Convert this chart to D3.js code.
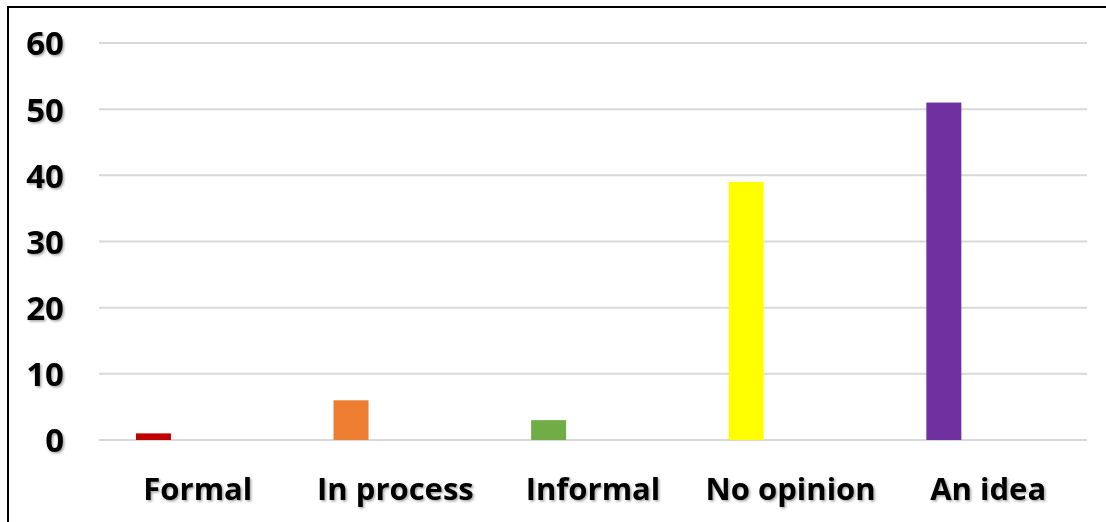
<!DOCTYPE html>
<html>
<head>
<meta charset="utf-8">
<script src="https://cdn.jsdelivr.net/npm/d3@7"></script>
<style>
  html, body { margin: 0; padding: 0; background: #fff; }
  svg { display: block; }
</style>
</head>
<body>
<svg id="chart" width="1106" height="522"></svg>
<script>
// Responses per category
const categories = ["Formal", "In process", "Informal", "No opinion", "An idea"];
const counts = [1, 6, 3, 39, 51];
const barColors = ["#C00000", "#ED7D31", "#70AD47", "#FFFF00", "#7030A0"];
const yTicks = [0, 10, 20, 30, 40, 50, 60];

const svg = d3.select("#chart");
const W = 1106, H = 522;
const plot = { left: 99, right: 1087, top: 43, bottom: 440 };
const FONT = "'Open Sans', Lato, sans-serif";

const defs = svg.append("defs");
const shadow = defs.append("filter").attr("id", "txtShadow")
  .attr("x", "-10%").attr("y", "-20%").attr("width", "130%").attr("height", "150%");
shadow.append("feDropShadow")
  .attr("dx", 1.5).attr("dy", 1.5).attr("stdDeviation", 1)
  .attr("flood-color", "#000").attr("flood-opacity", 0.35);

const x = d3.scaleBand().domain(categories).range([plot.left, plot.right]).padding(0);
const y = d3.scaleLinear().domain([0, 60]).range([plot.bottom, plot.top]);

// Horizontal gridlines
svg.append("g")
  .selectAll("line")
  .data(yTicks)
  .join("line")
  .attr("x1", plot.left).attr("x2", plot.right)
  .attr("y1", d => y(d)).attr("y2", d => y(d))
  .attr("stroke", "#d9d9d9").attr("stroke-width", 2);

// Bars sit in the left part of each category slot
const barOffset = 0.187, barWidth = 0.177;
svg.append("g")
  .selectAll("rect")
  .data(categories)
  .join("rect")
  .attr("x", (d) => x(d) + x.bandwidth() * barOffset)
  .attr("width", x.bandwidth() * barWidth)
  .attr("y", (d, i) => y(counts[i]))
  .attr("height", (d, i) => y(0) - y(counts[i]))
  .attr("fill", (d, i) => barColors[i]);

// Y axis labels
const yAxis = d3.axisLeft(y).tickValues(yTicks).tickSize(0).tickPadding(0);
const gy = svg.append("g").attr("transform", "translate(64,0)").call(yAxis);
gy.select(".domain").remove();
gy.selectAll("text")
  .attr("font-size", 33).attr("font-family", FONT).attr("font-weight", "bold")
  .attr("fill", "#000").attr("dy", "0.36em").attr("filter", "url(#txtShadow)");

// X axis labels
const xAxis = d3.axisBottom(x).tickSize(0).tickPadding(0);
const gx = svg.append("g").attr("transform", "translate(0,500)").call(xAxis);
gx.select(".domain").remove();
gx.selectAll("text")
  .attr("font-size", 31).attr("font-family", FONT).attr("font-weight", "bold")
  .attr("fill", "#000").attr("dy", 0).attr("y", 0).attr("filter", "url(#txtShadow)");

// Frame: left and top edges
svg.append("line").attr("x1", 8).attr("x2", 8).attr("y1", 6).attr("y2", H)
  .attr("stroke", "#000").attr("stroke-width", 2);
svg.append("line").attr("x1", 7).attr("x2", W).attr("y1", 7).attr("y2", 7)
  .attr("stroke", "#000").attr("stroke-width", 2);
</script>
</body>
</html>
